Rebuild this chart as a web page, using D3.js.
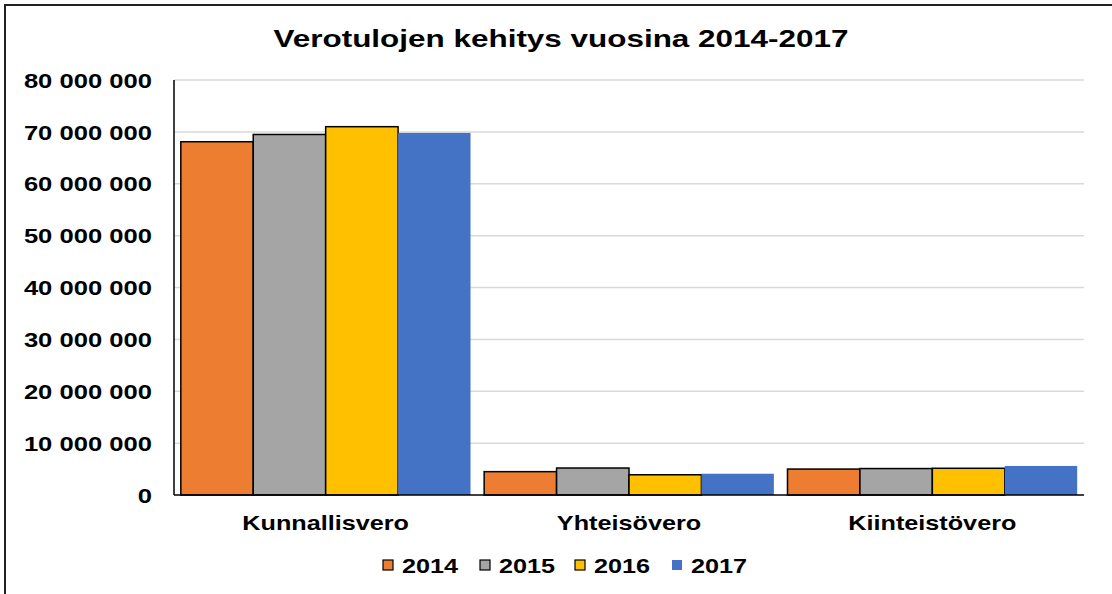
<!DOCTYPE html>
<html>
<head>
<meta charset="utf-8">
<script src="https://cdn.jsdelivr.net/npm/d3@7"></script>
<style>
  body { margin: 0; background: #fff; }
  text { font-family: "Liberation Sans", Arial, sans-serif; font-weight: bold; fill: #000; }
</style>
</head>
<body>
<div id="chart"></div>
<script>
  // chart data
  var categories = ["Kunnallisvero", "Yhteisövero", "Kiinteistövero"];
  var years = ["2014", "2015", "2016", "2017"];
  var values2014 = [68100000, 4500000, 5000000];
  var values2015 = [69500000, 5200000, 5100000];
  var values2016 = [71000000, 3900000, 5150000];
  var values2017 = [69800000, 4100000, 5600000];
  var yTicks = [0, 10000000, 20000000, 30000000, 40000000, 50000000, 60000000, 70000000, 80000000];

  var series = [values2014, values2015, values2016, values2017];
  var colours = ["#ED7D31", "#A5A5A5", "#FFC000", "#4472C4"];
  var outlined = [true, true, true, false];

  var width = 1112, height = 594;
  var svg = d3.select("#chart").append("svg")
    .attr("width", width)
    .attr("height", height);

  // text in the original is a little wider than the font, stretch it
  function stretch(sel, ratio) {
    sel.each(function() {
      var w = this.getComputedTextLength();
      d3.select(this).attr("textLength", w * ratio).attr("lengthAdjust", "spacingAndGlyphs");
    });
  }

  // chart border
  svg.append("rect")
    .attr("x", 5).attr("y", 5)
    .attr("width", width + 10).attr("height", height + 10)
    .attr("fill", "none")
    .attr("stroke", "#222")
    .attr("stroke-width", 2);

  svg.append("text")
    .attr("x", 561).attr("y", 47)
    .attr("text-anchor", "middle")
    .style("font-size", "24px")
    .text("Verotulojen kehitys vuosina 2014-2017")
    .call(stretch, 1.31);

  var plotLeft = 174, plotRight = 1084, plotTop = 80, plotBottom = 495;

  var y = d3.scaleLinear().domain([0, 80000000]).range([plotBottom, plotTop]);
  var x0 = d3.scaleBand().domain(categories).range([plotLeft, plotRight]).paddingInner(0.045).paddingOuter(0.0225);
  var x1 = d3.scaleBand().domain(years).range([0, x0.bandwidth()]);

  var fmt = function(d) { return d3.format(",")(d).replace(/,/g, " "); };

  // gridlines
  svg.append("g").selectAll("line")
    .data(yTicks.slice(1))
    .enter().append("line")
    .attr("x1", plotLeft).attr("x2", plotRight)
    .attr("y1", function(d) { return y(d); })
    .attr("y2", function(d) { return y(d); })
    .attr("stroke", "#d9d9d9")
    .attr("stroke-width", 1.5);

  // y axis labels
  var yAxis = d3.axisLeft(y).tickValues(yTicks).tickFormat(fmt).tickSize(0).tickPadding(22);
  var ya = svg.append("g").attr("transform", "translate(" + plotLeft + ",0)").call(yAxis);
  ya.select(".domain").remove();
  ya.selectAll("text")
    .style("font-size", "20px")
    .style("font-family", "'Liberation Sans', Arial, sans-serif")
    .attr("dy", "0.36em")
    .call(stretch, 1.28);

  // bars
  var groups = svg.append("g").selectAll("g")
    .data(categories)
    .enter().append("g")
    .attr("transform", function(d) { return "translate(" + x0(d) + ",0)"; });

  groups.selectAll("rect")
    .data(function(d, ci) {
      return years.map(function(yr, si) { return { year: yr, si: si, value: series[si][ci] }; });
    })
    .enter().append("rect")
    .attr("x", function(d) { return x1(d.year); })
    .attr("width", x1.bandwidth())
    .attr("y", function(d) { return y(d.value); })
    .attr("height", function(d) { return plotBottom - y(d.value); })
    .attr("fill", function(d) { return colours[d.si]; })
    .attr("stroke", function(d) { return outlined[d.si] ? "#000" : "none"; })
    .attr("stroke-width", 1.5);

  // axis lines
  svg.append("line")
    .attr("x1", plotLeft).attr("x2", plotLeft)
    .attr("y1", plotTop).attr("y2", plotBottom)
    .attr("stroke", "#000").attr("stroke-width", 1.5);
  svg.append("line")
    .attr("x1", plotLeft).attr("x2", plotRight)
    .attr("y1", plotBottom).attr("y2", plotBottom)
    .attr("stroke", "#000").attr("stroke-width", 1.5);

  // category labels
  svg.append("g").selectAll("text")
    .data(categories)
    .enter().append("text")
    .attr("x", function(d) { return x0(d) + x0.bandwidth() / 2; })
    .attr("y", 530)
    .attr("text-anchor", "middle")
    .style("font-size", "21px")
    .text(function(d) { return d; })
    .call(stretch, 1.2);

  // legend
  var legendX = [383, 480, 575, 672];
  var legend = svg.append("g").selectAll("g")
    .data(years)
    .enter().append("g")
    .attr("transform", function(d, i) { return "translate(" + legendX[i] + ",560)"; });
  legend.append("rect")
    .attr("width", 10).attr("height", 10)
    .attr("fill", function(d, i) { return colours[i]; })
    .attr("stroke", function(d, i) { return outlined[i] ? "#000" : "none"; })
    .attr("stroke-width", 1.2);
  legend.append("text")
    .attr("x", 19).attr("y", 13)
    .style("font-size", "21px")
    .text(function(d) { return d; })
    .call(stretch, 1.2);
</script>
</body>
</html>
